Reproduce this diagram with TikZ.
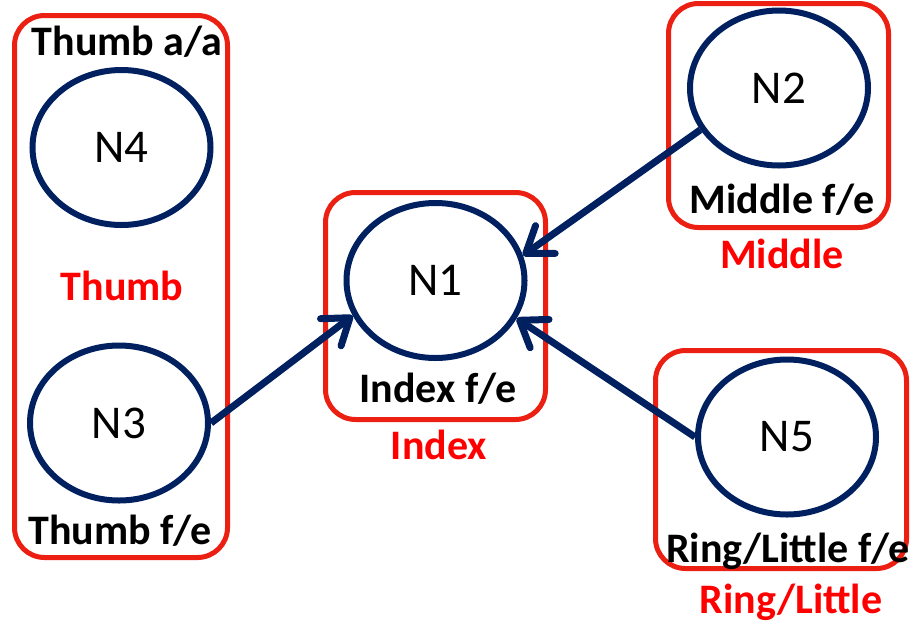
\documentclass[tikz,border=0pt]{standalone}
\usepackage{fontspec}
\setmainfont{Carlito}
\usetikzlibrary{shapes.geometric,arrows.meta}
\definecolor{navy}{RGB}{0,32,96}
\definecolor{boxred}{RGB}{235,32,18}
\definecolor{labred}{RGB}{255,0,0}
\tikzset{
  neuron/.style={ellipse,draw=navy,line width=6pt,minimum width=178pt,minimum height=155pt,inner sep=0pt,font=\fontsize{47}{50}\selectfont},
  grp/.style={draw=boxred,line width=5pt,rounded corners=30pt,inner sep=0pt},
  blab/.style={anchor=base,font=\fontsize{42}{46}\selectfont\bfseries,inner sep=0pt},
  rlab/.style={blab,text=labred},
  conn/.style={draw=navy,line width=7pt,-{Straight Barb[length=24pt,width=34pt,round]}}
}
\begin{document}
\begin{tikzpicture}[x=1pt,y=-1pt]
\useasboundingbox (0,0) rectangle (910,630);
% group boxes
\node[grp,minimum width=213pt,minimum height=542pt] (gthumb) at (121,286.5) {};
\node[grp,minimum width=220pt,minimum height=227pt] (gindex) at (435.5,306) {};
\node[grp,minimum width=220pt,minimum height=224pt] (gmiddle) at (778.5,115.5) {};
\node[grp,minimum width=251pt,minimum height=218pt] (gring) at (781,459.5) {};
% neurons
\node[neuron] (n4) at (121.5,147.5) {N4};
\node[neuron] (n3) at (119,423) {N3};
\node[neuron] (n1) at (435.5,280.5) {N1};
\node[neuron] (n2) at (779,88) {N2};
\node[neuron] (n5) at (787,437) {N5};
% labels
\node[blab] (tThumbaa) at (127,55) {Thumb a/a};
\node[rlab] (tThumb) at (122,300) {Thumb};
\node[blab] (tThumbfe) at (120,544) {Thumb f/e};
\node[blab] (tIndexfe) at (438,402) {Index f/e};
\node[rlab] (tIndex) at (439,459) {Index};
\node[blab] (tMiddlefe) at (782,213) {Middle f/e};
\node[rlab] (tMiddle) at (782,268) {Middle};
\node[blab] (tRingfe) at (788,562) {Ring/Little f/e};
\node[rlab] (tRing) at (791,613) {Ring/Little};
% connectors
\draw[conn] (n3.east) -- (n1.203);
\draw[conn] (n2.208) -- (n1.16);
\draw[conn] (n5.west) -- (n1.-25);
\end{tikzpicture}
\end{document}
